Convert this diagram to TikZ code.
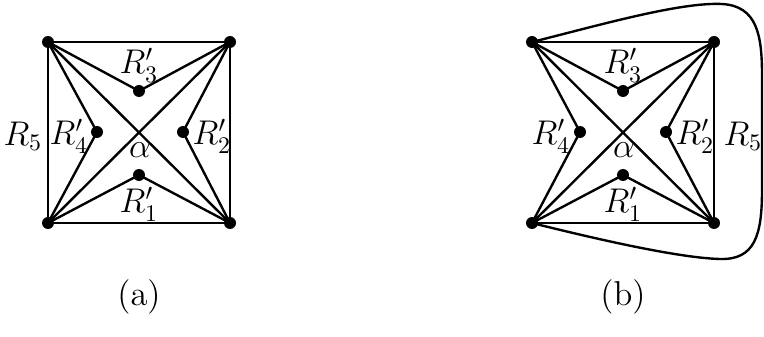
\documentclass[tikz,border=0pt]{standalone}
\begin{document}
\begin{tikzpicture}[x=0.42pt,y=-0.42pt,
  font=\fontsize{14.5}{17}\selectfont,
  dot/.style={circle,fill=black,inner sep=0pt,minimum size=12*0.42pt},
  edge/.style={line width=1pt},
  lbl/.style={inner sep=0pt}]
\useasboundingbox (0,0) rectangle (764,337);
% ---------- (a) ----------
\node[dot] (a1) at (48,42) {};
\node[dot] (a2) at (230,42) {};
\node[dot] (a3) at (48,223) {};
\node[dot] (a4) at (230,223) {};
\node[dot] (at) at (139,91) {};
\node[dot] (al) at (97,132) {};
\node[dot] (ar) at (183,132) {};
\node[dot] (ab) at (139,175) {};
\draw[edge] (a1.center) -- (a2.center) -- (a4.center) -- (a3.center) -- cycle;
\draw[edge] (a1.center) -- (a4.center) (a2.center) -- (a3.center);
\draw[edge] (a1.center) -- (at.center) -- (a2.center);
\draw[edge] (a1.center) -- (al.center) -- (a3.center);
\draw[edge] (a2.center) -- (ar.center) -- (a4.center);
\draw[edge] (a3.center) -- (ab.center) -- (a4.center);
\node[lbl] (la3) at (139,65) {$R_3'$};
\node[lbl] (la4) at (69,136) {$R_4'$};
\node[lbl] (la2) at (212,136) {$R_2'$};
\node[lbl] (la1) at (139,204) {$R_1'$};
\node[lbl] (laa) at (140,150) {$\alpha$};
\node[lbl] (la5) at (23,136) {$R_5$};
\node[lbl] (capa) at (139,297) {(a)};
% ---------- (b) ----------
\node[dot] (b1) at (532,42) {};
\node[dot] (b2) at (714,42) {};
\node[dot] (b3) at (532,223) {};
\node[dot] (b4) at (714,223) {};
\node[dot] (bt) at (623,91) {};
\node[dot] (bl) at (580,132) {};
\node[dot] (br) at (666,132) {};
\node[dot] (bb) at (623,175) {};
\draw[edge] (b3.center) -- (b4.center) -- (b2.center) -- (b1.center);
\draw[edge] (b1.center) -- (b4.center) (b2.center) -- (b3.center);
\draw[edge] (b1.center) -- (bt.center) -- (b2.center);
\draw[edge] (b1.center) -- (bl.center) -- (b3.center);
\draw[edge] (b2.center) -- (br.center) -- (b4.center);
\draw[edge] (b3.center) -- (bb.center) -- (b4.center);
\draw[edge] (b1.center) .. controls (600,25) and (680,2) .. (722,4)
  .. controls (757,6) and (762,35) .. (762,75) -- (762,190)
  .. controls (762,235) and (755,260) .. (720,259)
  .. controls (680,258) and (600,240) .. (b3.center);
\node[lbl] (lb3) at (623,65) {$R_3'$};
\node[lbl] (lb4) at (551,136) {$R_4'$};
\node[lbl] (lb2) at (695,136) {$R_2'$};
\node[lbl] (lb1) at (623,204) {$R_1'$};
\node[lbl] (lba) at (624,150) {$\alpha$};
\node[lbl] (lb5) at (743,136) {$R_5$};
\node[lbl] (capb) at (623,297) {(b)};
\end{tikzpicture}
\end{document}
